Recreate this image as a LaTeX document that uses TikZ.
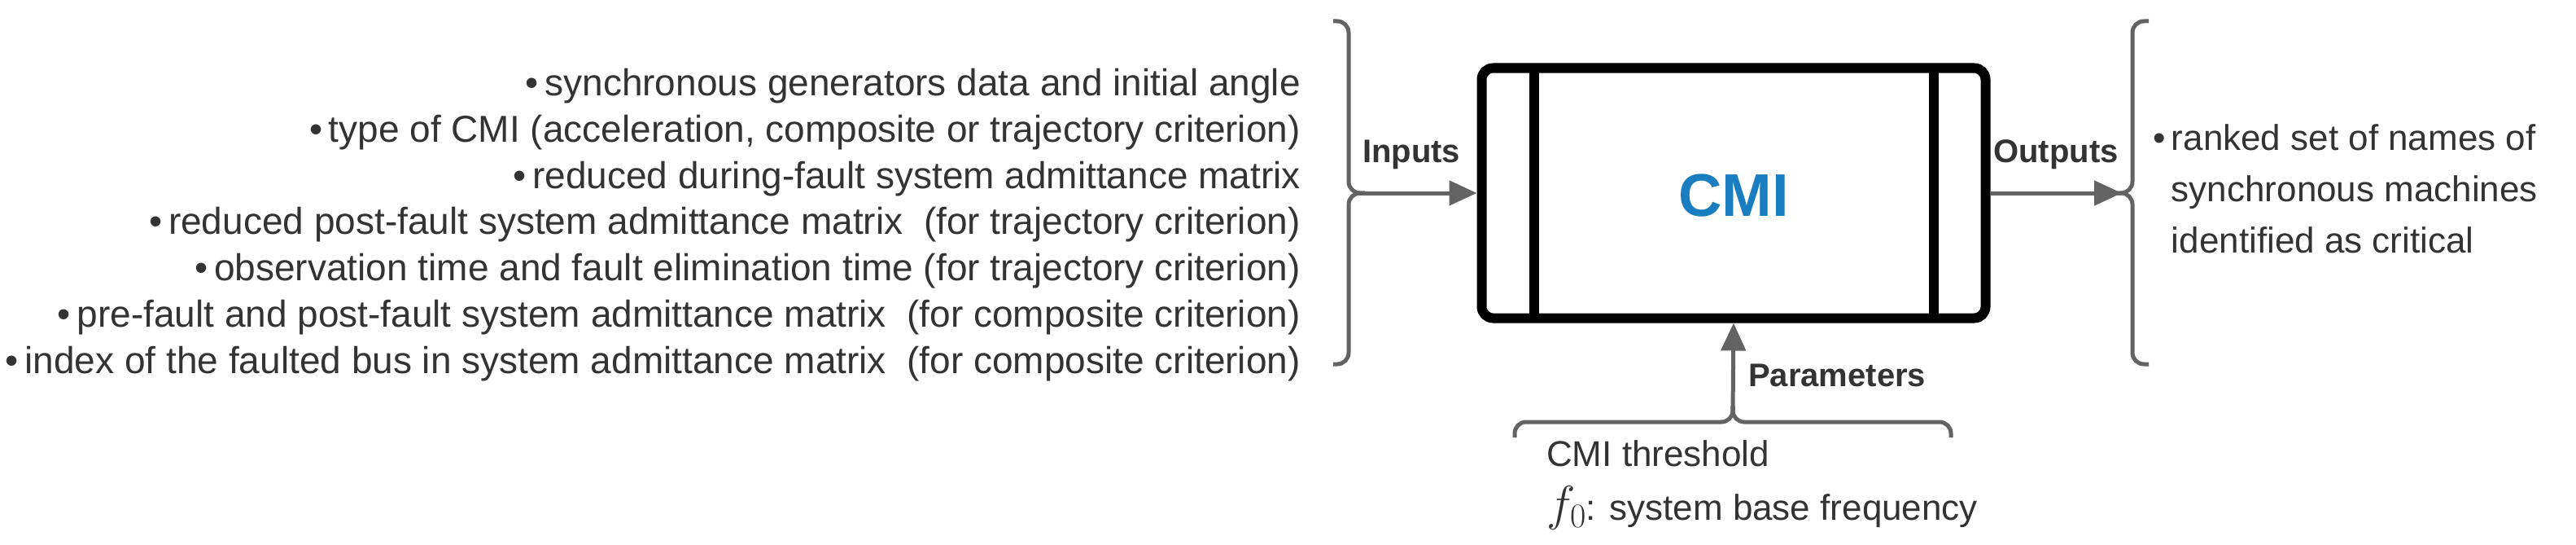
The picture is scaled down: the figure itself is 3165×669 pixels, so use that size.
\RequirePackage{fix-cm}
\documentclass[tikz,border=0pt]{standalone}
\usepackage{fontspec}
\setmainfont{Liberation Sans}
\usetikzlibrary{arrows.meta}
\definecolor{tx}{HTML}{333333}
\definecolor{gr}{HTML}{636363}
\definecolor{cb}{HTML}{1A7DC0}
\begin{document}
\begin{tikzpicture}[x=1pt,y=-1pt,
  txt/.style={font=\fontsize{44}{50}\selectfont,text=tx,inner sep=0pt},
  lbl/.style={font=\fontsize{40}{46}\selectfont\bfseries,text=tx,inner sep=0pt},
  br/.style={draw=gr,line width=5pt,rounded corners=14pt},
  arr/.style={draw=gr,line width=5pt,-{Triangle[length=34pt,width=30pt]}}]
\useasboundingbox (0,0) rectangle (3165,669);
% left input list
\foreach \i/\t in {1/synchronous generators data and initial angle,
 2/type of CMI (acceleration{,} composite or trajectory criterion),
 3/reduced during-fault system admittance matrix,
 4/reduced post-fault system admittance matrix\ \ (for trajectory criterion),
 5/observation time and fault elimination time (for trajectory criterion),
 6/pre-fault and post-fault system admittance matrix\ \ (for composite criterion),
 7/index of the faulted bus in system admittance matrix\ \ (for composite criterion)}
 \node[txt,anchor=east,font=\fontsize{46}{50}\selectfont] (in\i) at (1598,{106+56.7*(\i-1)}) {\textbullet\,\t};
% left brace
\draw[br] (1638,26) -- (1657,26) -- (1657,237) -- (1677,237);
\draw[br] (1677,237) -- (1657,237) -- (1657,447) -- (1638,447);
\coordinate (lt) at (1665,237);
% box
\node[draw=black,line width=12pt,rounded corners=14pt,minimum width=619pt,minimum height=307pt,inner sep=0pt] (box) at (2130,237) {};
\draw[line width=12pt] (1885,83) -- (1885,390);
\draw[line width=12pt] (2376,83) -- (2376,390);
\node[font=\fontsize{74}{80}\selectfont\bfseries,text=cb] (cmi) at (2130,240) {CMI};
\draw[arr] (lt) -- (box.west);
\node[lbl] (inl) at (1734,190) {Inputs};
% right brace
\draw[br] (2640,26) -- (2620,26) -- (2620,237) -- (2600,237);
\draw[br] (2600,237) -- (2620,237) -- (2620,447) -- (2640,447);
\coordinate (rt) at (2607,237);
\draw[arr] (box.east) -- (rt);
\node[lbl] (outl) at (2526,190) {Outputs};
\node[txt,anchor=north west,align=left,font=\fontsize{44}{63}\selectfont] (out) at (2645,152) {\textbullet\,ranked set of names of\\\phantom{\textbullet\,}synchronous machines\\\phantom{\textbullet\,}identified as critical};
% bottom brace
\draw[br] (1861,537) -- (1861,518) -- (2129,518) -- (2129,498);
\draw[br] (2129,498) -- (2129,518) -- (2397,518) -- (2397,537);
\coordinate (bt) at (2129,505);
\draw[arr] (bt) -- (box.south);
\node[lbl,anchor=west] (parl) at (2148,461) {Parameters};
\node[txt,anchor=base west] (p1) at (1900,572) {CMI threshold};
\node[txt,anchor=base west] (p2) at (1900,638) {{\fontsize{60}{64}\selectfont$f_0$}: system base frequency};
\end{tikzpicture}
\end{document}
